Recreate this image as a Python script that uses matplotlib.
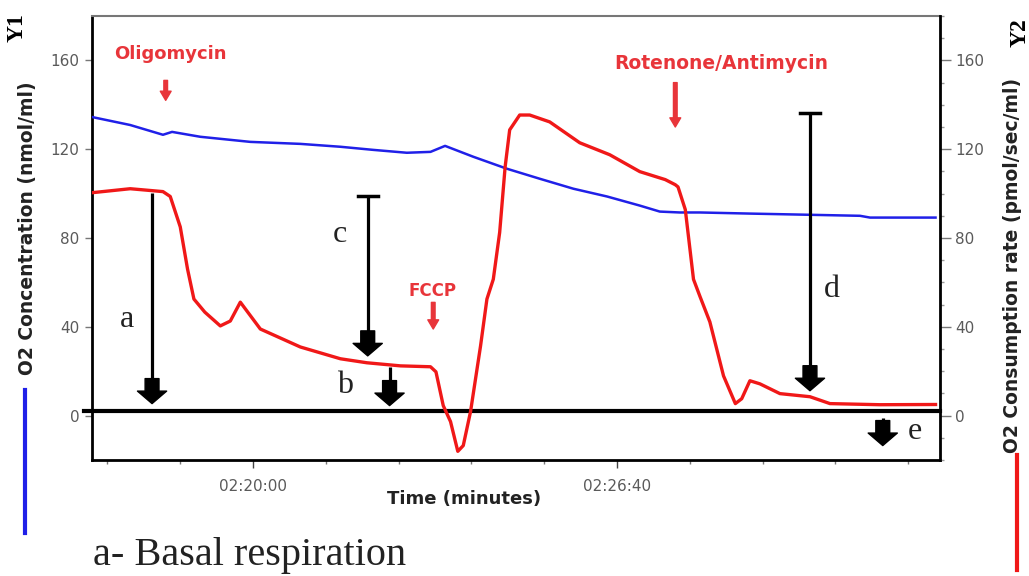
import matplotlib
matplotlib.use('Agg')
import matplotlib.pyplot as plt
from matplotlib.ticker import MultipleLocator, FuncFormatter


# time axis in seconds (02:20:00 = 8400 s)
blue_time = [8223, 8265, 8301, 8311, 8342, 8397, 8452, 8496, 8532, 8569, 8595, 8611,
             8642, 8679, 8715, 8752, 8789, 8825, 8847, 8869, 8891, 8946, 9067, 9078, 9150]
# O2 concentration (nmol/ml)
blue_conc = [134.5, 130.9, 126.5, 127.8, 125.6, 123.3, 122.4, 121.1, 119.7, 118.4, 118.8, 121.5,
             116.6, 111.2, 106.7, 102.2, 98.7, 94.6, 91.9, 91.5, 91.5, 91.0, 90.0, 89.2, 89.2]

red_time = [8223, 8265, 8301, 8309, 8320, 8328, 8335, 8347, 8364, 8375, 8386, 8408,
            8452, 8496, 8525, 8562, 8595, 8601, 8609, 8617, 8625, 8631, 8639, 8650,
            8657, 8664, 8671, 8677, 8682, 8693, 8704, 8726, 8759, 8792, 8825, 8853,
            8864, 8867, 8875, 8884, 8891, 8902, 8917, 8930, 8937, 8946, 8957, 8979,
            9012, 9034, 9089, 9150]
# O2 consumption rate (pmol/sec/ml)
red_rate = [100.4, 102.2, 100.9, 98.7, 85.0, 66.0, 52.5, 46.6, 40.4, 42.6, 51.1, 39.0,
            30.9, 25.6, 23.8, 22.4, 22.0, 19.7, 4.5, -2.7, -16.1, -13.5, 1.8, 31.4,
            52.5, 61.4, 82.5, 112.0, 128.7, 135.4, 135.4, 132.3, 122.9, 117.5, 109.9, 106.3,
            104.0, 103.0, 92.8, 61.4, 53.8, 42.2, 17.9, 5.4, 7.6, 15.7, 14.3, 9.9,
            8.5, 5.4, 4.9, 5.0]

baseline = 2.2

# injections: name, arrow time, text height, arrow top, arrow tip
injections = [("Oligomycin", 8304, 163.0, 151.0, 142.0),
              ("FCCP", 8598, 56.0, 51.0, 39.0),
              ("Rotenone/Antimycin", 8864, 158.5, 150.0, 130.0)]
injection_text_x = [8309, 8597, 8915]
injection_size = [13, 12, 13.5]

# black measurement arrows: label, x, top, tip, label x, label y, has cap
measures = [("a", 8289, 100.4, 5.4, 8261, 43.5, False),
            ("b", 8550, 22.0, 4.5, 8501, 13.5, False),
            ("c", 8526, 98.7, 26.9, 8495, 81.6, True),
            ("d", 9012, 136.3, 11.2, 9036, 57.0, True),
            ("e", 9092, -1.3, -13.5, 9127, -7.2, False)]

red = '#f01818'
blue = '#2020e8'
text_red = '#e8353a'
tick_grey = '#5a5a5a'


def hms(sec, pos=None):
    sec = int(round(sec))
    return "%02d:%02d:%02d" % (sec // 3600, (sec // 60) % 60, sec % 60)


fig = plt.figure(figsize=(10.29, 5.76), dpi=100)
ax = fig.add_axes([0.0894, 0.2014, 0.8242, 0.7708])
ax2 = ax.twinx()

ax.plot(blue_time, blue_conc, color=blue, lw=1.8, zorder=3)
ax2.plot(red_time, red_rate, color=red, lw=2.4, zorder=3)

for a in (ax, ax2):
    a.set_xlim(8223, 9155)
    a.set_ylim(-20, 180)
    a.set_yticks([0, 40, 80, 120, 160])

# baseline
ax.axhline(baseline, color='k', lw=3, zorder=4, clip_on=False, xmin=-0.01)

# axes styling
ax.spines['top'].set_color('#777777')
ax.spines['top'].set_linewidth(1.5)
for s in ('left', 'bottom'):
    ax.spines[s].set_linewidth(2)
ax2.spines['right'].set_linewidth(2)
for s in ('left', 'top', 'bottom'):
    ax2.spines[s].set_visible(False)

ax.xaxis.set_major_locator(MultipleLocator(400))
ax.xaxis.set_minor_locator(MultipleLocator(80))
ax.xaxis.set_major_formatter(FuncFormatter(hms))
ax.tick_params(axis='x', which='major', length=6, width=1, pad=8,
               labelsize=11, labelcolor=tick_grey, color='#444444')
ax.tick_params(axis='x', which='minor', length=3, width=1, color='#777777')
ax.tick_params(axis='y', length=5, width=1, pad=4, labelsize=11,
               labelcolor=tick_grey, color='#777777')
ax2.yaxis.set_minor_locator(MultipleLocator(10))
ax2.tick_params(axis='y', which='major', length=8, width=1, pad=3, labelsize=11,
                labelcolor=tick_grey, color='#777777')
ax2.tick_params(axis='y', which='minor', length=3, width=1, color='#999999')

ax.set_xlabel("Time (minutes)", fontsize=13, fontweight='bold', color='#222222')
ax.xaxis.set_label_coords(0.439, -0.068)

# injection labels and red arrows
for (name, xa, ty, top, tip), xt, fs in zip(injections, injection_text_x, injection_size):
    ax.text(xt, ty, name, color=text_red, fontsize=fs, fontweight='bold',
            ha='center', va='center', zorder=5)
    ax.annotate('', xy=(xa, tip), xytext=(xa, top),
                arrowprops=dict(arrowstyle='simple,head_length=0.55,head_width=0.65,tail_width=0.22',
                                color=text_red, shrinkA=0, shrinkB=0, mutation_scale=12))

# measurement arrows
for lab, x, top, tip, lx, ly, cap in measures:
    ax.plot([x, x], [top, tip + 6], color='k', lw=2.3, zorder=5, solid_capstyle='butt')
    if cap:
        ax.plot([x - 11, x + 11], [top, top], color='k', lw=2.5, zorder=5)
    ax.annotate('', xy=(x, tip), xytext=(0, 18), textcoords='offset points',
                arrowprops=dict(arrowstyle='simple,head_length=0.45,head_width=1.05,tail_width=0.5',
                                color='k', shrinkA=0, shrinkB=0, mutation_scale=20), zorder=6)
    ax.text(lx, ly, lab, fontsize=23, family='Liberation Serif', color='#222222',
            ha='center', va='center', zorder=5)

# axis titles in the margins
fig.text(0.0165, 0.953, "Y1", rotation=90, fontsize=17, fontweight='bold',
         family='Liberation Serif', ha='center', va='center')
fig.text(0.991, 0.944, "Y2", rotation=90, fontsize=17, fontweight='bold',
         family='Liberation Serif', ha='center', va='center')
fig.text(0.027, 0.604, "O2 Concentration (nmol/ml)", rotation=90, fontsize=13.5,
         fontweight='bold', color='#222222', ha='center', va='center')
fig.text(0.9835, 0.54, "O2 Consumption rate (pmol/sec/ml)", rotation=90, fontsize=13.5,
         fontweight='bold', color='#222222', ha='center', va='center')

# legend strokes under the axis titles
fig.add_artist(plt.Line2D([0.0243, 0.0243], [0.323, 0.075], color=blue, lw=3))
fig.add_artist(plt.Line2D([0.988, 0.988], [0.21, 0.01], color=red, lw=3))

fig.text(0.0904, 0.035, "a- Basal respiration", fontsize=29, family='Liberation Serif',
         color='#222222', ha='left', va='center')

fig.savefig('out.png', dpi=100)
